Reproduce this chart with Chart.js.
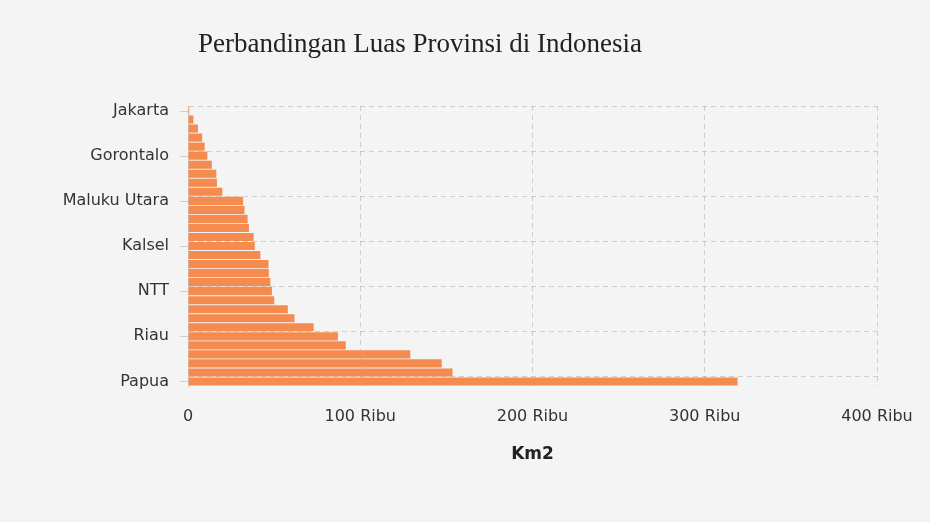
<!DOCTYPE html>
<html>
<head>
<meta charset="utf-8">
<script src="https://cdn.jsdelivr.net/npm/chart.js@4"></script>
<style>
  html, body { margin: 0; padding: 0; background: #f4f4f4; overflow: hidden; }
  #wrap { position: relative; width: 930px; height: 522px; }
  #chart { display: block; }
  #title {
    position: absolute; left: 198px; top: 28px; margin: 0;
    font: normal 27px "Liberation Serif", "Times New Roman", serif;
    color: #222; white-space: nowrap;
  }
</style>
</head>
<body>
<div id="wrap">
  <h1 id="title">Perbandingan Luas Provinsi di Indonesia</h1>
  <canvas id="chart" width="930" height="522"></canvas>
</div>
<script>
const PROVINCES = [
  'Jakarta', 'DI Yogyakarta', 'Bali', 'Kepri', 'Banten',
  'Gorontalo', 'Sulut', 'Babel', 'Sulbar', 'Bengkulu',
  'Maluku Utara', 'Jateng', 'Lampung', 'Jabar', 'Sultra',
  'Kalsel', 'Sumbar', 'Sulsel', 'Maluku', 'Jatim',
  'NTT', 'Jambi', 'Aceh', 'Sulteng', 'Sumut',
  'Riau', 'Sumsel', 'Kaltim', 'Kalbar', 'Kalteng',
  'Papua'
];

const AREA_KM2 = [
  664, 3133, 5780, 8202, 9663,
  11257, 13852, 16424, 16787, 19919,
  31983, 32801, 34624, 35378, 38068,
  38744, 42013, 46717, 46915, 47800,
  48718, 50058, 57956, 61841, 72981,
  87024, 91592, 129067, 147307, 153565,
  319036
];

const X_TICKS = [0, 100000, 200000, 300000, 400000];
const LABEL_EVERY = 5;

const FONT = 'DejaVu Sans, Verdana, sans-serif';
const GRID = 'rgba(160,160,160,0.45)';
const DASH = [5, 4];

// small tick marks left of the y axis, at the labelled categories
const yTickMarks = {
  id: 'yTickMarks',
  afterDraw(chart) {
    const y = chart.scales.y;
    const ctx = chart.ctx;
    ctx.save();
    ctx.strokeStyle = '#cfcfcf';
    ctx.lineWidth = 1;
    y.ticks.forEach((t, i) => {
      if (i % LABEL_EVERY) return;
      const py = Math.round(y.getPixelForTick(i)) + 0.5;
      ctx.beginPath();
      ctx.moveTo(y.right - 8, py);
      ctx.lineTo(y.right, py);
      ctx.stroke();
    });
    ctx.restore();
  }
};

new Chart(document.getElementById('chart'), {
  type: 'bar',
  data: {
    labels: PROVINCES,
    datasets: [{
      label: 'Luas',
      data: AREA_KM2,
      backgroundColor: '#f58c4f',
      borderWidth: 0,
      barPercentage: 0.9,
      categoryPercentage: 1,
    }],
  },
  options: {
    indexAxis: 'y',
    responsive: false,
    animation: false,
    layout: { padding: { top: 106, right: 53, left: 0, bottom: 0 } },
    plugins: {
      legend: { display: false },
      tooltip: { enabled: false },
      title: { display: false },
    },
    scales: {
      x: {
        type: 'linear',
        min: X_TICKS[0],
        max: X_TICKS[X_TICKS.length - 1],
        z: 1,
        afterFit: s => { s.height = 136; s.paddingLeft = 0; s.paddingRight = 0; },
        afterBuildTicks: s => { s.ticks = X_TICKS.map(v => ({ value: v })); },
        border: { display: false, dash: DASH },
        grid: {
          drawTicks: false,
          color: c => (c.tick && c.tick.value === 0) ? 'transparent' : GRID,
        },
        ticks: {
          padding: 21,
          color: '#333',
          font: { family: FONT, size: 16 },
          callback: v => v === 0 ? '0' : (v / 1000) + ' Ribu',
        },
        title: {
          display: true,
          text: 'Km2',
          color: '#222',
          font: { family: FONT, size: 17, weight: 'bold' },
          padding: { top: 0, bottom: 57.5 },
        },
      },
      y: {
        type: 'category',
        offset: true,
        z: 1,
        afterFit: s => { s.width = 188; },
        border: { display: true, color: '#cfcfcf', dash: DASH },
        grid: {
          offset: true,
          drawTicks: false,
          color: c => (c.index % LABEL_EVERY === 0 && c.index < PROVINCES.length) ? GRID : 'transparent',
        },
        ticks: {
          autoSkip: false,
          padding: 19,
          color: '#333',
          font: { family: FONT, size: 16 },
          callback: (v, i) => i % LABEL_EVERY === 0 ? PROVINCES[i] : '',
        },
      },
    },
  },
  plugins: [yTickMarks],
});
</script>
</body>
</html>
